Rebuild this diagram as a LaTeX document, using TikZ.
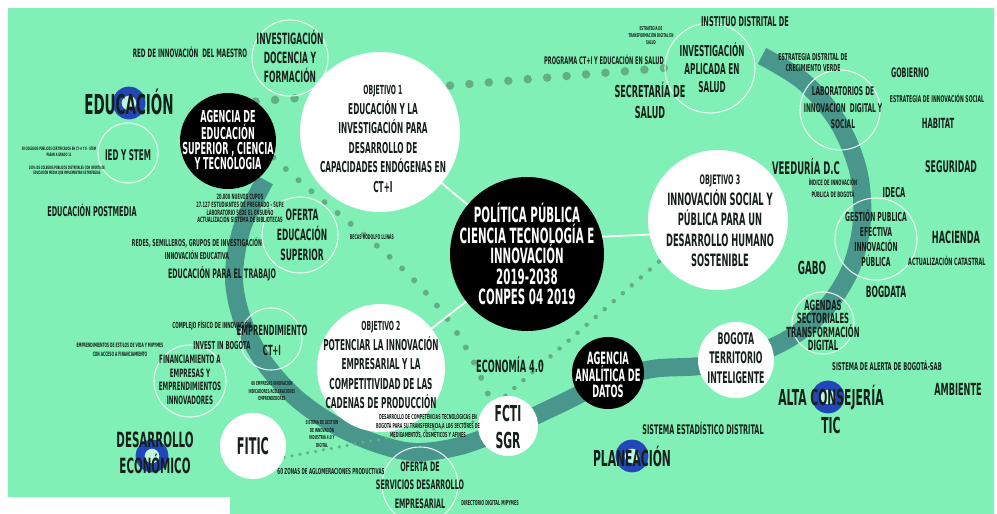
\documentclass[tikz,border=0pt]{standalone}
\usepackage{fontspec}
\usetikzlibrary{backgrounds}
\newfontfamily\cf[FakeStretch=0.49]{DejaVu Sans}
\newcommand\letra[2]{\cf\bfseries\fontsize{#1}{#2}\selectfont}
\definecolor{menta}{RGB}{128,240,182}
\definecolor{banda}{RGB}{73,150,140}
\definecolor{puntos}{RGB}{98,175,132}
\definecolor{anillo}{RGB}{35,70,185}
\definecolor{tinta}{RGB}{22,32,26}
\definecolor{hueco}{RGB}{190,245,220}
\begin{document}
\begin{tikzpicture}[x=1pt, y=1pt, line join=round,
    txt/.style={text=tinta, align=center, inner sep=0pt},
    negro/.style={circle, fill=black, inner sep=0pt},
    blanco/.style={circle, fill=white, inner sep=0pt},
    aro/.style={circle, draw=white, draw opacity=0.85, line width=1.1pt, inner sep=0pt},
    enlace/.style={white, line width=1.8pt},
    punteoG/.style={puntos, line width=8.5pt, line cap=round, dash pattern=on 0pt off 19.5pt},
    punteoM/.style={puntos, line width=6pt, line cap=round, dash pattern=on 0pt off 17pt},
    punteoP/.style={puntos, line width=4.5pt, line cap=round, dash pattern=on 0pt off 12pt},
    punteoF/.style={puntos, line width=3.5pt, line cap=round, dash pattern=on 0pt off 8pt}]
\useasboundingbox (0,0) rectangle (997,-514);
\begin{scope}[on background layer]
  \fill[white] (0,0) rectangle (997,-514);
  \fill[menta] (8,-8) -- (994,-8) -- (994,-514) -- (230,-514) -- (230,-497) -- (8,-497) -- cycle;
\end{scope}

% circulos llenos
\node[negro, minimum size=154pt] (main) at (527,-254) {};
\node[blanco, minimum size=160pt] (obj1) at (380,-132) {};
\node[blanco, minimum size=128pt] (obj2) at (381,-368) {};
\node[blanco, minimum size=140pt] (obj3) at (718,-220) {};
\node[negro, minimum size=96pt] (agenciaEdu) at (228,-141) {};
\node[negro, minimum size=72pt] (agenciaDat) at (608,-373) {};
\node[blanco, minimum size=60pt] (fcti) at (508,-426) {};
\node[blanco, minimum size=66pt] (fitic) at (253,-446) {};
\node[blanco, minimum size=76pt] (bogota) at (736,-360) {};

% circulos de contorno
\node[aro, minimum size=76pt] (invDoc) at (290,-58) {};
\node[aro, minimum size=90pt] (invSalud) at (710,-68) {};
\node[aro, minimum size=80pt] (labs) at (840,-110) {};
\node[aro, minimum size=82pt] (gestion) at (876,-239) {};
\node[aro, minimum size=62pt] (agendas) at (823,-323) {};
\node[aro, minimum size=60pt] (ied) at (128,-153) {};
\node[aro, minimum size=76pt] (ofertaEdu) at (300,-235) {};
\node[aro, minimum size=62pt] (emprend) at (271,-339) {};
\node[aro, minimum size=72pt] (financ) at (190,-381) {};
\node[aro, minimum size=76pt] (ofertaServ) at (420,-485) {};

\begin{scope}[on background layer]
  \draw[banda, line width=18pt] plot[smooth, tension=0.55] coordinates {(265,-180) (242,-228) (234,-278) (243,-322) (264,-362) (295,-397) (333,-424) (375,-443) (415,-452) (460,-446) (508,-428) (558,-405) (606,-382) (652,-369) (700,-366) (747,-357) (790,-338) (826,-308) (851,-268) (862,-220) (858,-170) (838,-122) (804,-82) (762,-56)};
  \draw[punteoG] (agenciaEdu.55) -- (invSalud.west);
  \draw[punteoM] (agenciaEdu.-20) to[out=-43, in=110] (fcti.125);
  \draw[punteoP] (fcti.95) -- (obj3.215);
  \draw[punteoF] (fitic.-20) -- (fcti.170);
\end{scope}

\draw[enlace] (obj1) -- (main);
\draw[enlace] (main.13) -- (obj3.192);
\draw[enlace] (obj2) -- (main);

\foreach \x/\y in {129/103, 152/456, 632/456, 828/397}
  \draw[anillo, line width=9pt, fill=hueco] (\x,-\y) circle (12);

% textos de los circulos
\node[txt, text=white, font=\letra{21}{20.5}] (maint) at (527,-254) {POLÍTICA PÚBLICA\\CIENCIA TECNOLOGÍA E\\INNOVACIÓN\\2019-2038\\CONPES 04 2019};
\node[txt, font=\letra{15}{19.5}] (obj1t) at (383,-139) {{\fontsize{12.5}{19.5}\selectfont OBJETIVO 1}\\EDUCACIÓN Y LA\\INVESTIGACIÓN PARA\\DESARROLLO DE\\CAPACIDADES ENDÓGENAS EN\\CT+I};
\node[txt, font=\letra{15}{19.5}] (obj2t) at (381,-365) {{\fontsize{12.5}{19.5}\selectfont OBJETIVO 2}\\POTENCIAR LA INNOVACIÓN\\EMPRESARIAL Y LA\\COMPETITIVIDAD DE LAS\\CADENAS DE PRODUCCIÓN};
\node[txt, font=\letra{17}{20.5}] (obj3t) at (720,-221) {{\fontsize{13}{20.5}\selectfont OBJETIVO 3}\\INNOVACIÓN SOCIAL Y\\PÚBLICA PARA UN\\DESARROLLO HUMANO\\SOSTENIBLE};
\node[txt, text=white, font=\letra{16.5}{15}] (agenciaEdut) at (228,-140) {AGENCIA DE\\EDUCACIÓN\\SUPERIOR , CIENCIA\\Y TECNOLOGIA};
\node[txt, text=white, font=\letra{17}{16}] (agenciaDatt) at (608,-375) {AGENCIA\\ANALÍTICA DE\\DATOS};
\node[txt, font=\letra{22}{27}] (fctit) at (508,-427) {FCTI\\SGR};
\node[txt, font=\letra{23}{27}] (fitict) at (253,-446) {FITIC};
\node[txt, font=\letra{16}{19.5}] (bogotat) at (736,-358) {BOGOTA\\TERRITORIO\\INTELIGENTE};
\node[txt, font=\letra{15.5}{19}] (invDoct) at (290,-56) {INVESTIGACIÓN\\DOCENCIA Y\\FORMACIÓN};
\node[txt, font=\letra{15}{18}] (invSaludt) at (712,-68) {INVESTIGACIÓN\\APLICADA EN\\SALUD};
\node[txt, font=\letra{12}{16.5}] (labst) at (843,-108) {LABORATORIOS DE\\INNOVACION~ DIGITAL Y\\SOCIAL};
\node[txt, font=\letra{12.4}{15}] (gestiont) at (876,-238) {GESTIÓN PUBLICA\\EFECTIVA\\INNOVACIÓN\\PÚBLICA};
\node[txt, font=\letra{14}{13}] (agendast) at (823,-325) {AGENDAS\\SECTORIALES\\TRANSFORMACIÓN\\DIGITAL};
\node[txt, font=\letra{14.7}{18}] (iedt) at (128,-155) {IED Y STEM};
\node[txt, font=\letra{15.5}{20}] (ofertaEdut) at (302,-235) {OFERTA\\EDUCACIÓN\\SUPERIOR};
\node[txt, font=\letra{14}{20}] (emprendt) at (272,-340) {EMPRENDIMIENTO\\CT+I};
\node[txt, font=\letra{11.5}{13.5}] (financt) at (190,-380) {FINANCIAMIENTO A\\EMPRESAS Y\\EMPRENDIMIENTOS\\INNOVADORES};
\node[txt, font=\letra{13}{18.5}] (ofertaServt) at (420,-485) {OFERTA DE\\SERVICIOS DESARROLLO\\EMPRESARIAL};

% sectores
\node[txt, font=\letra{27.5}{30}] (educ) at (129,-102) {EDUCACIÓN};
\node[txt, font=\letra{21}{26}] (desEco) at (155,-453) {DESARROLLO\\ECONÓMICO};
\node[txt, font=\letra{22}{26}] (planea) at (632,-456) {PLANEACIÓN};
\node[txt, font=\letra{22}{28}] (altaTic) at (831,-409) {ALTA CONSEJERÍA\\TIC};

% textos sueltos
\node[txt, font=\letra{11.5}{13}] (red) at (190,-52) {RED DE INNOVACIÓN~ DEL MAESTRO};
\node[txt, font=\letra{4.6}{6}] (colegiosA) at (59,-151) {30 COLEGIOS PÚBLICOS CERTIFICADOS EN CT+I Y 8 - STEM\\PASAN A GRADO 11};
\node[txt, font=\letra{4.6}{5.5}] (colegiosB) at (67,-170) {100\% DE COLEGIOS PÚBLICOS DISTRITALES CON OFERTA DE\\EDUCACIÓN MEDIA QUE IMPLEMENTAN ESTRATEGIAS};
\node[txt, font=\letra{13.4}{15}] (postmedia) at (92,-210) {EDUCACIÓN POSTMEDIA};
\node[txt, font=\letra{7.3}{7.7}] (cupos) at (240,-208.5) {20.000 NUEVOS CUPOS\\27.127 ESTUDIANTES DE PREGRADO - SUFE\\LABORATORIO SEDE EL ENSUEÑO\\ACTUALIZACIÓN SISTEMA DE BIBLIOTECAS};
\node[txt, font=\letra{9.5}{13}] (redes) at (197,-248.5) {REDES, SEMILLEROS, GRUPOS DE INVESTIGACIÓN\\INNOVACIÓN EDUCATIVA};
\node[txt, font=\letra{13}{15}] (trabajo) at (222,-274) {EDUCACIÓN PARA EL TRABAJO};
\node[txt, font=\letra{6.5}{8}] (becas) at (372,-237) {BECAS RODOLFO LLINÁS};
\node[txt, font=\letra{8.4}{10}] (complejo) at (212,-325) {COMPLEJO FÍSICO DE INNOVACIÓN};
\node[txt, font=\letra{6}{9}] (emprVida) at (120,-349.5) {EMPRENDIMIENTOS DE ESTILOS DE VIDA Y MIPYMES\\CON ACCESO A FINANCIAMIENTO};
\node[txt, font=\letra{11}{13}] (invest) at (222,-345) {INVEST IN BOGOTA};
\node[txt, font=\letra{5.5}{7.5}] (empresas) at (272,-390.5) {60 EMPRESAS INNOVACIÓN\\INDICADORES/ACELERACIONES\\EMPRENDEDORES};
\node[txt, font=\letra{5.5}{7.7}] (sistGestion) at (322,-433.5) {SISTEMA DE GESTIÓN\\DE INNOVACIÓN\\INDUSTRIA 4.0 Y\\DIGITAL};
\node[txt, font=\letra{6.8}{9}] (competencias) at (428,-426) {DESARROLLO DE COMPETENCIAS TECNOLÓGICAS EN\\BOGOTÁ PARA SU TRANSFERENCIA A LOS SECTORES DE\\MEDICAMENTOS, COSMÉTICOS Y AFINES};
\node[txt, font=\letra{8.2}{10}] (zonas) at (331,-472) {60 ZONAS DE AGLOMERACIONES PRODUCTIVAS};
\node[txt, font=\letra{6.8}{8}] (directorio) at (490,-503) {DIRECTORIO DIGITAL MIPYMES};
\node[txt, font=\letra{16.8}{18}] (economia) at (510,-365) {ECONOMÍA 4.0};
\node[txt, font=\letra{5.3}{7}] (estrSalud) at (651,-36) {ESTRATEGIA DE\\TRANSFORMACIÓN DIGITAL EN\\SALUD};
\node[txt, font=\letra{10.4}{12}] (programa) at (604,-60) {PROGRAMA CT+I Y EDUCACIÓN EN SALUD};
\node[txt, font=\letra{13.5}{15}] (instituto) at (745,-22) {INSTITUO DISTRITAL DE};
\node[txt, font=\letra{16.5}{21}] (secretaria) at (650,-100.5) {SECRETARÍA DE\\SALUD};
\node[txt, font=\letra{9.5}{11}] (crecimiento) at (813,-62.5) {ESTRATEGIA DISTRITAL DE\\CRECIMIENTO VERDE};
\node[txt, font=\letra{13}{15}] (gobierno) at (910,-73) {GOBIERNO};
\node[txt, font=\letra{9.3}{11}] (estrSocial) at (937,-98) {ESTRATEGIA DE INNOVACIÓN SOCIAL};
\node[txt, font=\letra{14}{16}] (habitat) at (938,-123) {HABITAT};
\node[txt, font=\letra{16}{18}] (seguridad) at (951,-167) {SEGURIDAD};
\node[txt, font=\letra{17.3}{19}] (veeduria) at (806,-167) {VEEDURÍA D.C};
\node[txt, font=\letra{7.5}{12}] (indice) at (833,-188) {ÍNDICE DE INNOVACIÓN\\PÚBLICA DE BOGOTÁ};
\node[txt, font=\letra{13.7}{15}] (ideca) at (894,-193) {IDECA};
\node[txt, font=\letra{16.8}{18}] (hacienda) at (956,-237) {HACIENDA};
\node[txt, font=\letra{10}{12}, anchor=west] (catastral) at (908,-261) {ACTUALIZACIÓN CATASTRAL};
\node[txt, font=\letra{18}{20}] (gabo) at (812,-268) {GABO};
\node[txt, font=\letra{15.4}{17}] (bogdata) at (886,-292) {BOGDATA};
\node[txt, font=\letra{10.7}{12}] (alerta) at (887,-366) {SISTEMA DE ALERTA DE BOGOTÁ-SAB};
\node[txt, font=\letra{16.7}{18}] (ambiente) at (958,-389) {AMBIENTE};
\node[txt, font=\letra{13.2}{15}] (estadistico) at (703,-428) {SISTEMA ESTADÍSTICO DISTRITAL};
\end{tikzpicture}
\end{document}
